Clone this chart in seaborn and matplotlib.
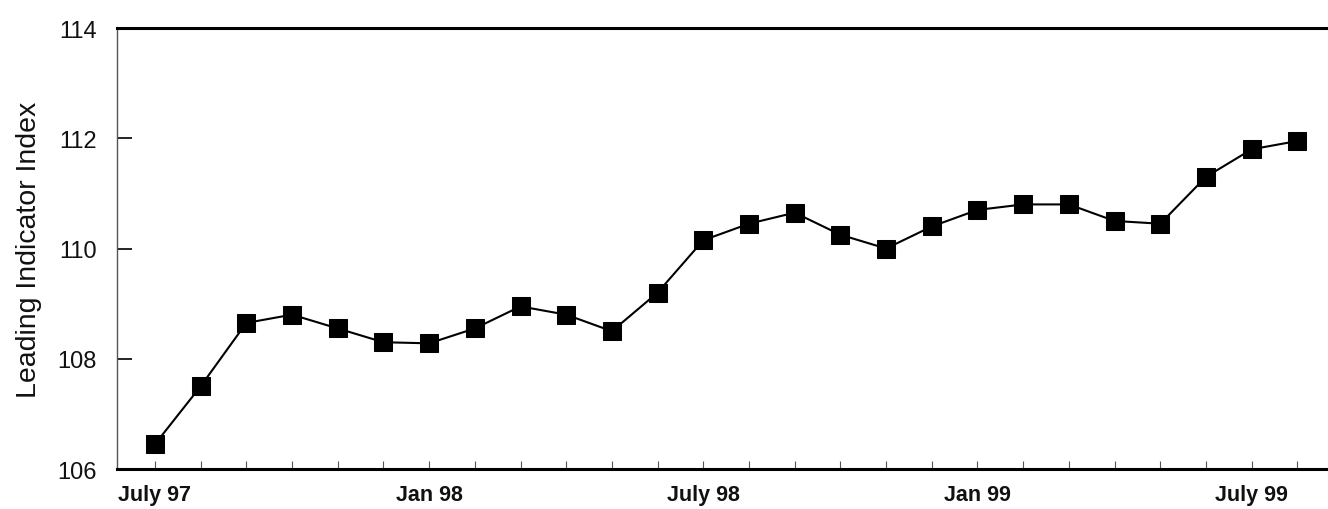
import matplotlib
matplotlib.use('Agg')
import matplotlib.pyplot as plt
import seaborn as sns
import pandas as pd

# monthly values, July 97 .. Aug 99
months = ['Jul 97', 'Aug 97', 'Sep 97', 'Oct 97', 'Nov 97', 'Dec 97',
          'Jan 98', 'Feb 98', 'Mar 98', 'Apr 98', 'May 98', 'Jun 98',
          'Jul 98', 'Aug 98', 'Sep 98', 'Oct 98', 'Nov 98', 'Dec 98',
          'Jan 99', 'Feb 99', 'Mar 99', 'Apr 99', 'May 99', 'Jun 99',
          'Jul 99', 'Aug 99']
index_values = [106.45, 107.5, 108.65, 108.8, 108.55, 108.3,
                108.28, 108.55, 108.95, 108.8, 108.5, 109.2,
                110.15, 110.45, 110.65, 110.25, 110.0, 110.4,
                110.7, 110.8, 110.8, 110.5, 110.45, 111.3,
                111.8, 111.95]
tick_labels = ['July 97', 'Jan 98', 'July 98', 'Jan 99', 'July 99']
tick_pos = [0, 6, 12, 18, 24]

df = pd.DataFrame({'pos': range(len(months)), 'month': months, 'value': index_values})

sns.set_style('white')
plt.rcParams['font.family'] = ['Liberation Sans', 'DejaVu Sans']

fig = plt.figure(figsize=(13.28, 5.1), dpi=100)
ax = fig.add_axes([0.0881, 0.0784, 0.9119, 0.8647])

sns.lineplot(data=df, x='pos', y='value', ax=ax, color='black',
             marker='s', markersize=12.5, linewidth=1.5,
             markeredgecolor='black', markerfacecolor='black')

ax.set_xlim(-0.83, 25.67)
ax.set_ylim(106, 114)
ax.set_yticks([106, 108, 110, 112, 114])
ax.set_yticklabels(['106', '108', '110', '112', '114'], fontsize=17, color='#111111')
ax.set_xticks(range(len(months)))
ax.set_xticklabels([tick_labels[tick_pos.index(i)] if i in tick_pos else '' for i in range(len(months))],
                   fontsize=15.5, fontweight='bold', color='#111111')

ax.tick_params(axis='y', direction='in', length=11, width=1.2, color='black', pad=14.5, left=True)
ax.tick_params(axis='x', direction='in', length=6, width=0.8, color='#555555', pad=11, bottom=True)

ax.set_xlabel('')
ax.set_ylabel('Leading Indicator Index', fontsize=20.5, labelpad=11, color='#111111')

ax.spines['right'].set_visible(False)
ax.spines['top'].set_linewidth(2.2)
ax.spines['top'].set_color('black')
ax.spines['bottom'].set_linewidth(2.2)
ax.spines['bottom'].set_color('black')
ax.spines['left'].set_linewidth(1.0)
ax.spines['left'].set_color('#555555')

fig.savefig('out.png', dpi=100)
